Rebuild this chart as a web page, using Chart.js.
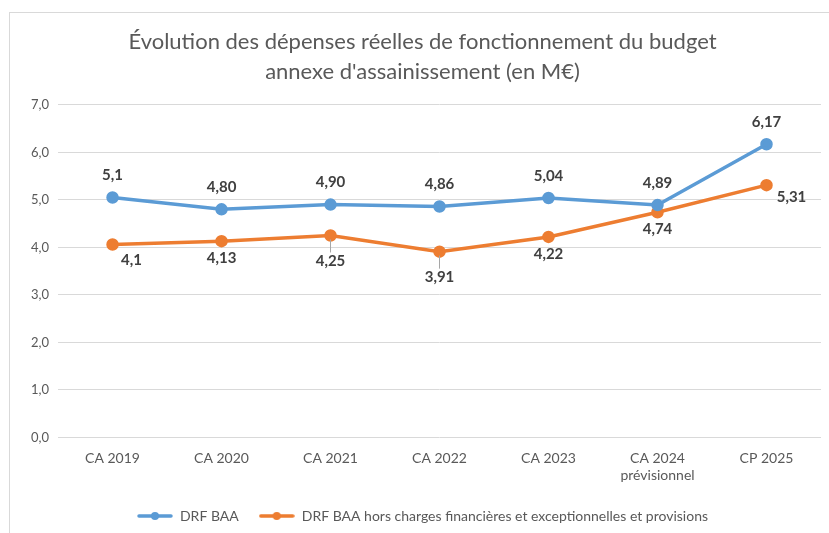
<!DOCTYPE html>
<html>
<head>
<meta charset="utf-8">
<script src="https://cdn.jsdelivr.net/npm/chart.js@4"></script>
<style>
  body { margin: 0; background: #fff; }
  #frame { position: absolute; left: 9px; top: 12px; width: 900px; height: 600px; border: 1px solid #d9d9d9; }
  #wrap { position: absolute; left: 0; top: 0; width: 829px; height: 533px; }
</style>
</head>
<body>
<div id="frame"></div>
<div id="wrap"><canvas id="myChart" width="829" height="533"></canvas></div>
<script>
const categories = ["CA 2019", "CA 2020", "CA 2021", "CA 2022", "CA 2023", ["CA 2024", "prévisionnel"], "CP 2025"];
const drfBaa = [5.05, 4.80, 4.90, 4.86, 5.04, 4.89, 6.17];
const drfHors = [4.06, 4.13, 4.25, 3.91, 4.22, 4.74, 5.31];
const drfBaaLabels = ["5,1", "4,80", "4,90", "4,86", "5,04", "4,89", "6,17"];
const drfHorsLabels = ["4,1", "4,13", "4,25", "3,91", "4,22", "4,74", "5,31"];

// where each value label sits relative to its point
const blueSpots = ["above", "above", "above", "above", "above", "above", "above"];
const orangeSpots = ["belowRight", "below", "belowFar", "belowFar", "below", "below", "right"];

const FONT = "Lato, 'Open Sans', sans-serif";
const BLUE = "#5B9BD5";
const ORANGE = "#ED7D31";

function legendMark(color) {
    const c = document.createElement("canvas");
    c.width = 36;
    c.height = 10;
    const g = c.getContext("2d");
    g.strokeStyle = color;
    g.lineWidth = 3.5;
    g.lineCap = "round";
    g.beginPath();
    g.moveTo(2, 5);
    g.lineTo(34, 5);
    g.stroke();
    g.fillStyle = color;
    g.beginPath();
    g.arc(18, 5, 4, 0, Math.PI * 2);
    g.fill();
    return c;
}

const valueLabels = {
    id: "valueLabels",
    afterDatasetsDraw(chart) {
        const ctx = chart.ctx;
        const sets = [
            { texts: drfBaaLabels, spots: blueSpots },
            { texts: drfHorsLabels, spots: orangeSpots },
        ];
        ctx.save();
        ctx.font = "bold 15px " + FONT;
        ctx.fillStyle = "#404040";
        ctx.textAlign = "center";
        ctx.textBaseline = "middle";
        sets.forEach((s, di) => {
            const meta = chart.getDatasetMeta(di);
            meta.data.forEach((pt, i) => {
                let x = pt.x, y = pt.y;
                const spot = s.spots[i];
                if (spot === "above") y -= 22;
                else if (spot === "below") y += 17;
                else if (spot === "belowRight") { x += 19; y += 16; }
                else if (spot === "right") { x += 25; y += 12; }
                else if (spot === "belowFar") {
                    y += 26;
                    ctx.save();
                    ctx.strokeStyle = "#a6a6a6";
                    ctx.lineWidth = 1;
                    ctx.beginPath();
                    ctx.moveTo(pt.x, pt.y + 4);
                    ctx.lineTo(pt.x, y - 9);
                    ctx.stroke();
                    ctx.restore();
                }
                ctx.fillText(s.texts[i], x, y);
            });
        });
        ctx.restore();
    },
};

new Chart(document.getElementById("myChart"), {
    type: "line",
    data: {
        labels: categories,
        datasets: [
            {
                label: "DRF BAA",
                data: drfBaa,
                borderColor: BLUE,
                backgroundColor: BLUE,
                borderWidth: 3.5,
                pointRadius: 4.5,
                pointHoverRadius: 4.5,
                pointStyle: "circle",
                tension: 0,
            },
            {
                label: "DRF BAA hors charges financières et exceptionnelles et provisions",
                data: drfHors,
                borderColor: ORANGE,
                backgroundColor: ORANGE,
                borderWidth: 3.5,
                pointRadius: 4.5,
                pointHoverRadius: 4.5,
                pointStyle: "circle",
                tension: 0,
            },
        ],
    },
    options: {
        responsive: false,
        animation: false,
        layout: {
            padding: { left: 22, right: 6, top: 12, bottom: 0 },
        },
        scales: {
            x: {
                offset: true,
                grid: { display: false },
                border: { display: false },
                ticks: {
                    color: "#595959",
                    font: { family: FONT, size: 14 },
                    padding: 5,
                    maxRotation: 0,
                    autoSkip: false,
                },
            },
            y: {
                min: 0,
                max: 7,
                grid: { color: "#d9d9d9", drawTicks: false },
                border: { display: false },
                ticks: {
                    stepSize: 1,
                    color: "#595959",
                    font: { family: FONT, size: 13 },
                    padding: 9,
                    callback: (v) => v.toFixed(1).replace(".", ","),
                },
            },
        },
        plugins: {
            title: {
                display: true,
                text: ["Évolution des dépenses réelles de fonctionnement du budget", "annexe d'assainissement (en M€)"],
                color: "#595959",
                font: { family: FONT, size: 22, weight: "normal", lineHeight: 1.36 },
                padding: { top: 15, bottom: 18 },
            },
            legend: {
                position: "bottom",
                labels: {
                    usePointStyle: true,
                    pointStyleWidth: 36,
                    color: "#595959",
                    font: { family: FONT, size: 14 },
                    padding: 20,
                    generateLabels: (chart) =>
                        chart.data.datasets.map((ds, i) => ({
                            text: ds.label,
                            pointStyle: legendMark(ds.borderColor),
                            fillStyle: ds.borderColor,
                            strokeStyle: ds.borderColor,
                            lineWidth: 0,
                            hidden: false,
                            datasetIndex: i,
                            fontColor: "#595959",
                        })),
                },
            },
            tooltip: { enabled: false },
        },
    },
    plugins: [valueLabels],
});
</script>
</body>
</html>
